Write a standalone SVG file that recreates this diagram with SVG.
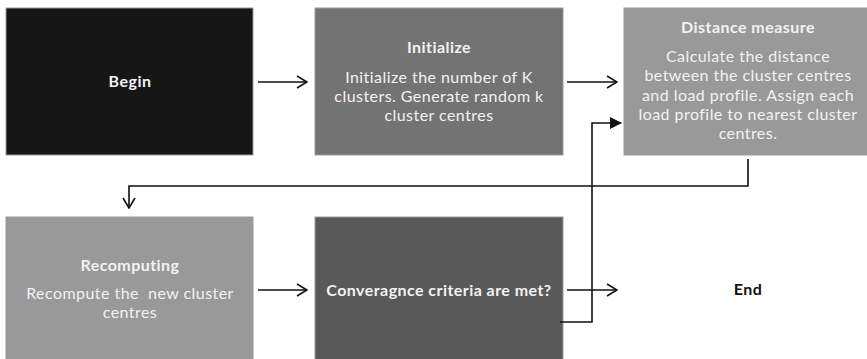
<svg xmlns="http://www.w3.org/2000/svg" width="867" height="359" viewBox="0 0 867 359">
<style>
.box{stroke:#9a9a9a;stroke-width:1}
.t{font-family:Lato,"Open Sans",sans-serif;font-size:16px;letter-spacing:0.45px;fill:#f2f2f2;text-anchor:middle}
.b{font-weight:bold;font-size:16px}
.k{fill:#111}
.c{fill:none;stroke:#111;stroke-width:1.6}
</style>
<defs>
<marker id="open" markerWidth="12" markerHeight="14" refX="11" refY="7" orient="auto" markerUnits="userSpaceOnUse">
<path d="M1,1 L11,7 L1,13" fill="none" stroke="#111" stroke-width="1.6"/>
</marker>
<marker id="fill" markerWidth="12" markerHeight="12" refX="11" refY="6" orient="auto" markerUnits="userSpaceOnUse">
<path d="M0,0 L12,6 L0,12 Z" fill="#111"/>
</marker>
</defs>
<rect width="867" height="359" fill="#fff"/>
<g id="begin">
<rect class="box" x="6" y="8" width="247" height="147" fill="#161616"/>
<text class="t b" x="130" y="87">Begin</text>
</g>
<g id="initialize">
<rect class="box" x="315" y="8" width="248" height="147" fill="#737373"/>
<text class="t b" x="439" y="53">Initialize</text>
<text class="t" x="439" y="83">Initialize the number of K</text>
<text class="t" x="439" y="102">clusters. Generate random k</text>
<text class="t" x="439" y="121">cluster centres</text>
</g>
<g id="distance">
<rect class="box" x="624" y="8" width="248" height="147" fill="#999999"/>
<text class="t b" x="748" y="33">Distance measure</text>
<text class="t" x="748" y="62">Calculate the distance</text>
<text class="t" x="748" y="81.3">between the cluster centres</text>
<text class="t" x="748" y="100.6">and load profile. Assign each</text>
<text class="t" x="748" y="119.9">load profile to nearest cluster</text>
<text class="t" x="748" y="139.2">centres.</text>
</g>
<g id="recomputing">
<rect class="box" x="6" y="217" width="247" height="145" fill="#999999"/>
<text class="t b" x="130" y="271">Recomputing</text>
<text class="t" x="130" y="299" xml:space="preserve">Recompute the  new cluster</text>
<text class="t" x="130" y="318.3">centres</text>
</g>
<g id="convergence">
<rect class="box" x="315" y="217" width="248" height="145" fill="#595959"/>
<text class="t b" x="439" y="296">Converagnce criteria are met?</text>
</g>
<g id="end">
<text class="t b k" x="748" y="295">End</text>
</g>
<g id="connectors">
<line class="c" x1="258" y1="82" x2="307" y2="82" marker-end="url(#open)"/>
<line class="c" x1="567" y1="82" x2="617" y2="82" marker-end="url(#open)"/>
<polyline class="c" points="748,159 748,186 129,186 129,208" marker-end="url(#open)"/>
<line class="c" x1="258" y1="290" x2="307" y2="290" marker-end="url(#open)"/>
<line class="c" x1="567" y1="290" x2="617" y2="290" marker-end="url(#open)"/>
<polyline class="c" points="560,322 592,322 592,123 621,123" marker-end="url(#fill)"/>
</g>
</svg>
